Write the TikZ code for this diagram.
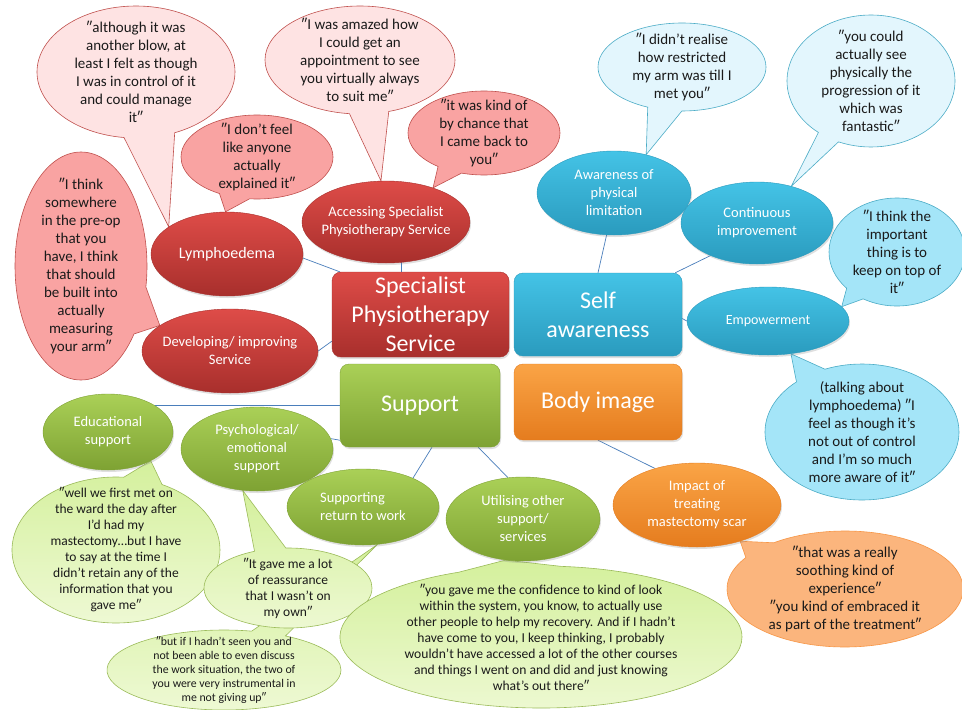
\documentclass[tikz,border=0pt]{standalone}
\usepackage{fontspec}
\setmainfont{Carlito}
\usetikzlibrary{shapes.geometric,shapes.callouts,shadows,calc,backgrounds}
\definecolor{lineblue}{HTML}{4A7EBB}
\definecolor{rTop}{HTML}{DE4C48}
\definecolor{rBot}{HTML}{A82F2C}
\definecolor{bTop}{HTML}{44C3E6}
\definecolor{bBot}{HTML}{2A9BBE}
\definecolor{gTop}{HTML}{AAD057}
\definecolor{gBot}{HTML}{7EA233}
\definecolor{oTop}{HTML}{FAA446}
\definecolor{oBot}{HTML}{E57C1E}
\definecolor{pinkL}{HTML}{FEE3E3}
\definecolor{pinkM}{HTML}{F9A3A2}
\definecolor{pinkEdge}{HTML}{C0504D}
\definecolor{blueL}{HTML}{E3F6FD}
\definecolor{blueM}{HTML}{A4E5F8}
\definecolor{blueEdge}{HTML}{4BACC6}
\definecolor{greenT}{HTML}{D4F09C}
\definecolor{greenB}{HTML}{EEF9D4}
\definecolor{greenEdge}{HTML}{9BBB59}
\definecolor{orangeL}{HTML}{FBB57D}
\definecolor{orangeEdge}{HTML}{F79646}
\definecolor{qtext}{HTML}{1A1A1A}
\newcommand{\qmk}{″}
\begin{document}
\begin{tikzpicture}[x=1pt,y=-1pt,
  conn/.style={draw=lineblue, line width=0.7pt},
  topicE/.style={ellipse, inner xsep=-30pt, inner ysep=-20pt, align=center, text=white,
    font=\fontsize{14.5}{18}\selectfont, line width=0.4pt,
    drop shadow={shadow xshift=1pt, shadow yshift=-2pt, opacity=0.25}},
  redE/.style={topicE, top color=rTop, bottom color=rBot, draw=rBot},
  blueE/.style={topicE, top color=bTop, bottom color=bBot, draw=bBot},
  greenE/.style={topicE, top color=gTop, bottom color=gBot, draw=gBot},
  orangeE/.style={topicE, top color=oTop, bottom color=oBot, draw=oBot},
  mainbox/.style={rectangle, rounded corners=9pt, inner sep=0pt, align=center, text=white,
    font=\fontsize{24}{29}\selectfont, line width=0.4pt,
    drop shadow={shadow xshift=1pt, shadow yshift=-2pt, opacity=0.25}},
  bubble/.style={ellipse callout, inner xsep=-30pt, inner ysep=-40pt, align=center,
    line width=0.6pt, text=qtext, font=\fontsize{15}{18}\selectfont},
  pinkLB/.style={bubble, fill=pinkL, draw=pinkEdge},
  pinkMB/.style={bubble, fill=pinkM, draw=pinkEdge},
  blueLB/.style={bubble, fill=blueL, draw=blueEdge},
  blueMB/.style={bubble, fill=blueM, draw=blueEdge},
  greenB/.style={bubble, top color=greenT, bottom color=greenB, draw=greenEdge,
    font=\fontsize{13.5}{16}\selectfont},
  orangeB/.style={bubble, fill=orangeL, draw=orangeEdge}
]
\begin{pgfonlayer}{background}
\fill[white] (0,0) rectangle (962,710);
\end{pgfonlayer}
\useasboundingbox (0,0) rectangle (962,710);

% central boxes
\node[mainbox, top color=rTop, bottom color=rBot, draw=rBot, minimum width=177pt, minimum height=85pt] (spec) at (420.5,314.5) {Specialist\\Physiotherapy\\Service};
\node[mainbox, top color=bTop, bottom color=bBot, draw=bBot, minimum width=168pt, minimum height=83pt] (self) at (598,314.5) {Self\\awareness};
\node[mainbox, top color=gTop, bottom color=gBot, draw=gBot, minimum width=160pt, minimum height=83pt] (support) at (420,405.5) {Support};
\node[mainbox, top color=oTop, bottom color=oBot, draw=oBot, minimum width=168pt, minimum height=76pt] (body) at (598,402) {Body image};

% topic ellipses
\node[redE, minimum width=152pt, minimum height=84pt, font=\fontsize{16}{18}\selectfont] (lymph) at (227,254) {Lymphoedema};
\node[redE, minimum width=168pt, minimum height=82pt] (acc) at (386,222) {Accessing Specialist\\Physiotherapy Service};
\node[redE, minimum width=176pt, minimum height=84pt] (dev) at (230,351) {Developing/ improving\\Service};
\node[blueE, minimum width=154pt, minimum height=84pt] (aware) at (614,193) {Awareness of\\physical\\limitation};
\node[blueE, minimum width=152pt, minimum height=82pt] (cont) at (757,223) {Continuous\\improvement};
\node[blueE, minimum width=162pt, minimum height=68pt, font=\fontsize{14}{16}\selectfont] (emp) at (768,321) {Empowerment};
\node[greenE, minimum width=130pt, minimum height=76pt] (edu) at (108,432) {Educational\\support};
\node[greenE, minimum width=152pt, minimum height=84pt] (psy) at (257,449) {Psychological/\\emotional\\support};
\node[greenE, minimum width=152pt, minimum height=76pt, align=left] (supp) at (363,507) {Supporting\\return to work};
\node[greenE, minimum width=154pt, minimum height=84pt] (util) at (523,519) {Utilising other\\support/\\services};
\node[orangeE, minimum width=168pt, minimum height=84pt] (impact) at (697,505) {Impact of\\treating\\mastectomy scar};

\begin{pgfonlayer}{background}
% connectors
\draw[conn] (lymph.-3) -- ($(spec.north west)+(8,0)$);
\draw[conn] (acc.-69) -- (acc.-69 |- spec.north);
\draw[conn] (dev.east) -- ($(spec.south west)+(0,-16)$);
\draw[conn] (aware.-100) -- (self.north);
\draw[conn] (cont.-145) -- ($(self.north east)+(-7,0)$);
\draw[conn] (emp.west) -- ($(self.east)+(0,4)$);
\draw[conn] (edu.29) -- (edu.29 -| support.west);
\draw[conn] (psy.8) -- ($(support.south west)+(0,-7)$);
\draw[conn] (supp.30) -- ($(support.south)+(12,0)$);
\draw[conn] (util.110) -- ($(support.south east)+(-22,0)$);
\draw[conn] (body.south) -- (impact.139);

% quote bubbles
\node[pinkLB, minimum width=198pt, minimum height=132pt, callout absolute pointer={(lymph.155)}, callout pointer arc=30] (q1) at (136,72)
  {\qmk although it was\\another blow, at\\least I felt as though\\I was in control of it\\and could manage\\it\qmk};
\node[pinkLB, minimum width=190pt, minimum height=108pt, callout absolute pointer={(acc.97)}, callout pointer arc=24] (q2) at (360,60)
  {\qmk I was amazed how\\I could get an\\appointment to see\\you virtually always\\to suit me\qmk};
\node[pinkMB, minimum width=152pt, minimum height=84pt, callout absolute pointer={(lymph.92)}, callout pointer arc=24] (q3) at (257,157)
  {\qmk I don’t feel\\like anyone\\actually\\explained it\qmk};
\node[pinkMB, minimum width=152pt, minimum height=84pt, callout absolute pointer={(acc.36)}, callout pointer arc=20] (q4) at (484,133)
  {\qmk it was kind of\\by chance that\\I came back to\\you\qmk};
\node[pinkMB, minimum width=132pt, minimum height=228pt, callout absolute pointer={(dev.160)}, callout pointer arc=26] (q5) at (81,266)
  {\qmk I think\\somewhere\\in the pre-op\\that you\\have, I think\\that should\\be built into\\actually\\measuring\\your arm\qmk};
\node[blueLB, minimum width=168pt, minimum height=88pt, callout absolute pointer={(aware.50)}, callout pointer arc=24] (q6) at (682,67)
  {\qmk I didn’t realise\\how restricted\\my arm was till I\\met you\qmk};
\node[blueLB, minimum width=168pt, minimum height=132pt, callout absolute pointer={(cont.47)}, callout pointer arc=16] (q7) at (871,81)
  {\qmk you could\\actually see\\physically the\\progression of it\\which was\\fantastic\qmk};
\node[blueMB, minimum width=136pt, minimum height=108pt, callout absolute pointer={(emp.11)}, callout pointer arc=18] (q8) at (897,252)
  {\qmk I think the\\important\\thing is to\\keep on top of\\it\qmk};
\node[blueMB, minimum width=194pt, minimum height=136pt, callout absolute pointer={(emp.-55)}, callout pointer arc=20] (q9) at (862,432)
  {(talking about\\lymphoedema) \qmk I\\feel as though it’s\\not out of control\\and I’m so much\\more aware of it\qmk};
\node[greenB, minimum width=208pt, minimum height=146pt, callout absolute pointer={(edu.-34)}, callout pointer arc=22] (q10) at (116,550)
  {\qmk well we first met on\\the ward the day after\\I’d had my\\mastectomy…but I have\\to say at the time I\\didn’t retain any of the\\information that you\\gave me\qmk};
\node[greenB, minimum width=234pt, minimum height=80pt, callout absolute pointer={(supp.-69)}, callout pointer arc=18,
  font=\fontsize{11.8}{14.2}\selectfont] (q12) at (224,670)
  {\qmk but if I hadn’t seen you and\\not been able to even discuss\\the work situation, the two of\\you were very instrumental in\\me not giving up\qmk};
\node[greenB, minimum width=168pt, minimum height=80pt, callout absolute pointer={(psy.-109)}, callout pointer arc=22] (q11) at (288,588)
  {\qmk It gave me a lot\\of reassurance\\that I wasn’t on\\my own\qmk};
\node[greenB, minimum width=402pt, minimum height=142pt, callout absolute pointer={(util.-113)}, callout pointer arc=30,
  font=\fontsize{13.6}{16}\selectfont] (q13) at (541,637)
  {\qmk you gave me the confidence to kind of look\\within the system, you know, to actually use\\other people to help my recovery. And if I hadn’t\\have come to you, I keep thinking, I probably\\wouldn’t have accessed a lot of the other courses\\and things I went on and did and just knowing\\what’s out there\qmk};
\node[orangeB, minimum width=236pt, minimum height=116pt, callout absolute pointer={(impact.-40)}, callout pointer arc=20] (q14) at (845,589)
  {\qmk that was a really\\soothing kind of\\experience\qmk\\\qmk you kind of embraced it\\as part of the treatment\qmk};
\end{pgfonlayer}
\end{tikzpicture}
\end{document}
